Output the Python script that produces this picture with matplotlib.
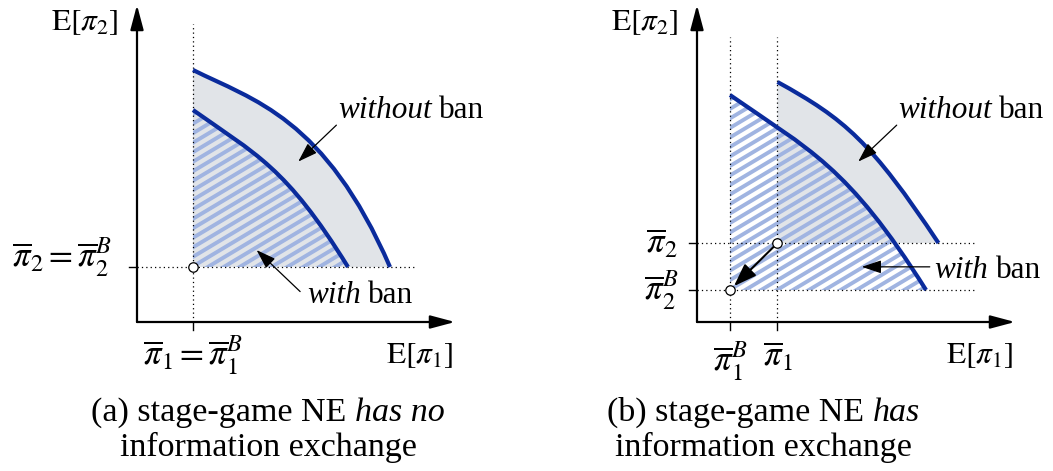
import numpy as np
import matplotlib
matplotlib.use("Agg")
import matplotlib.pyplot as plt
from matplotlib.path import Path
from matplotlib.patches import PathPatch
from matplotlib.collections import LineCollection
from matplotlib.transforms import offset_copy

plt.rcParams['mathtext.fontset'] = 'stix'
SERIF = 'Liberation Serif'

# ---------------- data (panel units: axis origin = 0, arrow tips = 10) ----------------
# panel (a): stage-game NE has no information exchange
a_pi1 = 1.76          # \bar\pi_1 = \bar\pi_1^B
a_pi2 = 1.735         # \bar\pi_2 = \bar\pi_2^B
a_without = [(1.761, 7.95), (3.650, 7.005), (5.912, 6.452), (7.956, 1.735)]   # Bezier ctrl pts
a_with = [(1.761, 6.688), (3.711, 5.301), (4.685, 4.905), (6.635, 1.735)]

# panel (b): stage-game NE has information exchange
b_pi1, b_pi1B = 2.531, 1.038
b_pi2, b_pi2B = 2.492, 1.009
b_without = [(2.531, 7.571), (4.657, 6.398), (5.468, 5.692), (7.594, 2.492)]
b_with = [(1.038, 7.160), (3.504, 5.438), (4.736, 4.946), (7.202, 1.009)]

a_xtick = r'$\overline{\pi}_1 = \overline{\pi}_1^B$'
a_ytick = r'$\overline{\pi}_2 = \overline{\pi}_2^B$'
b_xticks = [r'$\overline{\pi}_1^B$', r'$\overline{\pi}_1$']
b_yticks = [r'$\overline{\pi}_2$', r'$\overline{\pi}_2^B$']
xlabel = r'$\mathrm{E}[\pi_1]$'
ylabel = r'$\mathrm{E}[\pi_2]$'
cap_a = [("(a) stage-game NE", 'normal'), ("has no", 'italic')]
cap_b = [("(b) stage-game NE", 'normal'), ("has", 'italic')]
cap2 = "information exchange"

# ---------------- style ----------------
BLUE = '#0a2b9c'
GRAY = '#e1e4e8'
STRIPE = '#a0b4e1'
LAB = 22.5
TCK = 25
CAP = 24.5

fig = plt.figure(figsize=(10.53, 4.71), dpi=100)
W, H = 1053, 471
renderer = fig.canvas.get_renderer()


def make_ax(left_px):
    ax = fig.add_axes([left_px / W, (H - 322) / H, 318 / W, 317 / H])
    ax.set_xlim(0, 10)
    ax.set_ylim(0, 10)
    ax.axis('off')
    return ax


def region(ax, corner, ctrl):
    verts = [corner, ctrl[0], ctrl[1], ctrl[2], ctrl[3], corner]
    codes = [Path.MOVETO, Path.LINETO, Path.CURVE4, Path.CURVE4, Path.CURVE4, Path.CLOSEPOLY]
    return Path(verts, codes)


def curve(ax, ctrl):
    p = Path(ctrl, [Path.MOVETO, Path.CURVE4, Path.CURVE4, Path.CURVE4])
    ax.add_patch(PathPatch(p, fc='none', ec=BLUE, lw=3.0, zorder=5, capstyle='butt'))


def stripes(ax, path):
    patch = PathPatch(path, fc='none', ec='none', zorder=2)
    ax.add_patch(patch)
    segs = []
    for c in np.arange(-8, 12, 0.30):
        segs.append([(0, c), (10, c + 6.0)])
    lc = LineCollection(segs, colors=STRIPE, linewidths=2.8, zorder=2)
    ax.add_collection(lc)
    lc.set_clip_path(patch)


def rich(ax, x, y, parts, size, ha='left'):
    widths = []
    for s, st in parts:
        t = fig.text(0, 0, s, fontsize=size, fontstyle=st, family=SERIF)
        widths.append(t.get_window_extent(renderer).width)
        t.remove()
    gap = 0.25 * size * fig.dpi / 72.0
    total = sum(widths) + gap * (len(parts) - 1)
    dx = {'left': 0, 'center': -total / 2, 'right': -total}[ha]
    for (s, st), w in zip(parts, widths):
        ax.text(x, y, s, fontsize=size, fontstyle=st, family=SERIF, va='baseline', ha='left',
                transform=offset_copy(ax.transData, fig=fig, x=dx, y=0, units='dots'),
                clip_on=False)
        dx += w + gap


def arrow(ax, start, tip, lw=0.9, hl=0.6, hw=0.2, ms=20, shrink=0):
    ax.annotate('', xy=tip, xytext=start, annotation_clip=False,
                arrowprops=dict(arrowstyle=f'-|>,head_length={hl},head_width={hw}',
                                lw=lw, color='black', shrinkA=shrink, shrinkB=shrink,
                                mutation_scale=ms), zorder=7)


def axes_arrows(ax):
    arrow(ax, (0, 0), (10, 0), lw=1.6, hl=0.75, hw=0.2, ms=20)
    arrow(ax, (0, 0), (0, 10), lw=1.6, hl=0.75, hw=0.2, ms=20)


DOT = dict(color='black', lw=0.9, ls=(0, (1, 2.5)), zorder=4, clip_on=False)
TICK = dict(color='black', lw=1.0, clip_on=False, zorder=4)
CIRC = dict(marker='o', ms=6.8, mfc='white', mec='black', mew=0.9, ls='none', zorder=8, clip_on=False)

# ================= panel (a) =================
ax = make_ax(137)
axes_arrows(ax)
ax.add_patch(PathPatch(region(ax, (a_pi1, a_pi2), a_without), fc=GRAY, ec='none', zorder=1))
stripes(ax, region(ax, (a_pi1, a_pi2), a_with))
ax.plot([a_pi1, a_pi1], [0, 9.4], **DOT)
ax.plot([0, 8.74], [a_pi2, a_pi2], **DOT)
curve(ax, a_without)
curve(ax, a_with)
ax.plot([a_pi1, a_pi1], [0, -0.25], **TICK)
ax.plot([0, -0.25], [a_pi2, a_pi2], **TICK)
ax.plot([a_pi1], [a_pi2], **CIRC)
ax.text(a_pi1, -0.38, a_xtick, fontsize=TCK, ha='center', va='top')
ax.text(-0.8, a_pi2, a_ytick, fontsize=TCK, ha='right', va='baseline')
ax.text(9.94, -1.07, xlabel, fontsize=LAB, ha='right', va='center')
ax.text(-0.6, 9.46, ylabel, fontsize=LAB, ha='right', va='center')
rich(ax, 6.32, 6.44, [("without", 'italic'), ("ban", 'normal')], LAB)
rich(ax, 5.34, 0.61, [("with", 'italic'), ("ban", 'normal')], LAB)
arrow(ax, (6.27, 6.21), (5.07, 5.06))
arrow(ax, (5.13, 0.96), (3.76, 2.27))
rich(ax, 4.12, -3.12, cap_a, CAP, ha='center')
rich(ax, 4.12, -4.23, [(cap2, 'normal')], CAP, ha='center')

# ================= panel (b) =================
bx = make_ax(697)
axes_arrows(bx)
bx.add_patch(PathPatch(region(bx, (b_pi1, b_pi2), b_without), fc=GRAY, ec='none', zorder=1))
stripes(bx, region(bx, (b_pi1B, b_pi2B), b_with))
for xv in (b_pi1B, b_pi1):
    bx.plot([xv, xv], [0, 9.0], **DOT)
    bx.plot([xv, xv], [0, -0.25], **TICK)
for yv in (b_pi2, b_pi2B):
    bx.plot([0, 8.74], [yv, yv], **DOT)
    bx.plot([0, -0.25], [yv, yv], **TICK)
curve(bx, b_without)
curve(bx, b_with)
bx.plot([b_pi1, b_pi1B], [b_pi2, b_pi2B], **CIRC)
arrow(bx, (b_pi1, b_pi2), (b_pi1B, b_pi2B), lw=1.5, hl=0.7, hw=0.25, ms=20, shrink=4)
for xv, lab in zip((b_pi1B, b_pi1), b_xticks):
    bx.text(xv, -0.55, lab, fontsize=TCK, ha='center', va='top')
for yv, lab in zip((b_pi2, b_pi2B), b_yticks):
    bx.text(-0.6, yv, lab, fontsize=TCK, ha='right', va='center')
bx.text(9.94, -1.07, xlabel, fontsize=LAB, ha='right', va='center')
bx.text(-0.6, 9.46, ylabel, fontsize=LAB, ha='right', va='center')
rich(bx, 6.32, 6.44, [("without", 'italic'), ("ban", 'normal')], LAB)
rich(bx, 7.45, 1.39, [("with", 'italic'), ("ban", 'normal')], LAB)
arrow(bx, (7.32, 1.74), (5.18, 1.74))
arrow(bx, (6.28, 6.21), (5.07, 5.06))
rich(bx, 2.1, -3.12, cap_b, CAP, ha='center')
rich(bx, 2.1, -4.23, [(cap2, 'normal')], CAP, ha='center')

fig.savefig('out.png', dpi=100)
